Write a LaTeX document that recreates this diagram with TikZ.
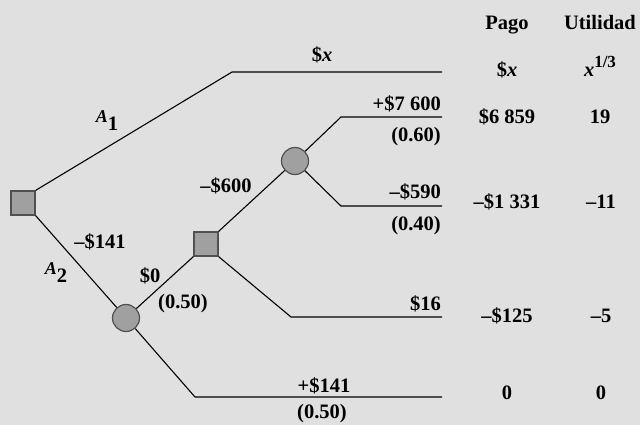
\documentclass[tikz,border=0pt]{standalone}
\usepackage{fontspec}
\setmainfont{Liberation Serif}
\usetikzlibrary{positioning}
\definecolor{paper}{HTML}{E0E0E0}
\definecolor{nodefill}{HTML}{A0A0A0}
\definecolor{nodeedge}{HTML}{505050}
\newcommand{\altsub}[2]{{\fontsize{18}{20}\selectfont\itshape #1}\raisebox{-8pt}{#2}}

\begin{document}
\begin{tikzpicture}[x=1pt, y=-1pt,
  every node/.style={font=\fontsize{20.5}{24}\selectfont\bfseries, inner sep=0pt},
  decision/.style={rectangle, draw=nodeedge, fill=nodefill, line width=1.2pt, minimum size=24pt},
  chance/.style={circle, draw=nodeedge, fill=nodefill, line width=1.2pt, minimum size=27pt},
  branch/.style={line width=1.1pt},
  lbl/.style={anchor=base},
  rlbl/.style={anchor=base east}]
  \fill[paper] (0,0) rectangle (640,425);
  \useasboundingbox (0,0) rectangle (640,425);
  % decision and chance nodes
  \node[decision] (d1) at (23,203) {};
  \node[chance] (c1) at (126,318) {};
  \node[decision] (d2) at (206,244) {};
  \node[chance] (c2) at (295,161) {};
  % bends and ends of the branches
  \coordinate (k1) at (232,72);  \coordinate (e1) at (442,72);
  \coordinate (k2) at (341,117); \coordinate (e2) at (442,117);
  \coordinate (k3) at (341,206); \coordinate (e3) at (442,206);
  \coordinate (k4) at (291,317); \coordinate (e4) at (442,317);
  \coordinate (k5) at (195,397); \coordinate (e5) at (442,397);
  % branches
  \draw[branch] (d1.north east) -- (k1) -- (e1);
  \draw[branch] (d1.south east) -- (c1);
  \draw[branch] (c1) -- (d2.south west);
  \draw[branch] (c1) -- (k5) -- (e5);
  \draw[branch] (d2.north east) -- (c2);
  \draw[branch] (d2.south east) -- (k4) -- (e4);
  \draw[branch] (c2) -- (k2) -- (e2);
  \draw[branch] (c2) -- (k3) -- (e3);
  % branch labels
  \node[lbl] (la1) at (107,123) {\altsub{A}{1}};
  \node[lbl] (la2) at (56,274) {\altsub{A}{2}};
  \node[lbl] (lcost) at (100,248) {–\$141};
  \node[lbl] (lzero) at (150,282) {\$0};
  \node[lbl] (pzero) at (183,308) {(0.50)};
  \node[lbl] (ltest) at (226,193) {–\$600};
  \node[lbl] (lx) at (322,62) {\$\textit{x}};
  \node[rlbl] (lwin) at (441,111) {+\$7 600};
  \node[rlbl] (pwin) at (441,142) {(0.60)};
  \node[rlbl] (llose) at (441,198) {–\$590};
  \node[rlbl] (plose) at (441,230) {(0.40)};
  \node[rlbl] (lstop) at (441,310) {\$16};
  \node[lbl] (lkeep) at (324,392) {+\$141};
  \node[lbl] (pkeep) at (322,418) {(0.50)};
  % payoff and utility columns
  \node[lbl] (hpago) at (507,30) {Pago};
  \node[lbl] (hutil) at (600,30) {Utilidad};
  \node[lbl] (p1) at (507,77) {\$\textit{x}};
  \node[lbl] (u1) at (600,77) {\textit{x}\raisebox{9pt}{\fontsize{17}{20}\selectfont 1/3}};
  \node[lbl] (p2) at (507,124) {\$6 859};
  \node[lbl] (u2) at (600,124) {19};
  \node[lbl] (p3) at (507,208) {–\$1 331};
  \node[lbl] (u3) at (601,208) {–11};
  \node[lbl] (p4) at (507,322) {–\$125};
  \node[lbl] (u4) at (601,322) {–5};
  \node[lbl] (p5) at (507,399) {0};
  \node[lbl] (u5) at (601,399) {0};
\end{tikzpicture}
\end{document}
